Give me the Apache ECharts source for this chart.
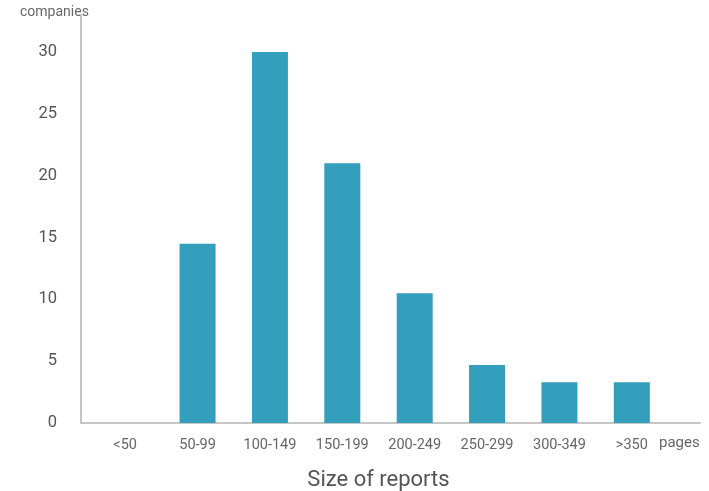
<!DOCTYPE html>
<html><head><meta charset="utf-8">
<script src="https://cdn.jsdelivr.net/npm/echarts@6/dist/echarts.min.js"></script>
<style>html,body{margin:0;padding:0;background:#fff}#c{width:709px;height:491px}</style>
</head><body><div id="c"></div>
<script>
const categories = ['<50','50-99','100-149','150-199','200-249','250-299','300-349','>350'];
const companies = [0, 14.5, 30, 21, 10.5, 4.7, 3.3, 3.3];
const yMin = 0, yMax = 33, yInterval = 5;

const FONT = 'Roboto, "Liberation Sans", sans-serif';
const chart = echarts.init(document.getElementById('c'), null, {renderer:'canvas'});
chart.setOption({
  animation:false,
  textStyle:{fontFamily:FONT},
  grid:[
    {left:81, right:9, top:15, bottom:68, containLabel:false, outerBoundsMode:'none'},
    {left:89, right:41, top:15, bottom:68, containLabel:false, outerBoundsMode:'none'}
  ],
  xAxis:[
    {gridIndex:0, type:'category', data:[''], axisLine:{lineStyle:{color:'#c6c6c6', width:2}},
     axisTick:{show:false}, axisLabel:{show:false}},
    {gridIndex:1, type:'category', data:categories,
     axisLine:{show:false}, axisTick:{show:false},
     axisLabel:{color:'#666', fontSize:14.5, margin:15, fontFamily:FONT},
     name:'Size of reports', nameLocation:'middle', nameGap:46,
     nameTextStyle:{color:'#555', fontSize:22, fontFamily:FONT}}
  ],
  yAxis:[
    {gridIndex:0, type:'value', min:yMin, max:yMax, interval:yInterval,
     axisLine:{show:true, lineStyle:{color:'#c6c6c6', width:2}},
     axisTick:{show:false}, splitLine:{show:false},
     axisLabel:{color:'#555', fontSize:16.5, margin:24, showMaxLabel:false, fontFamily:FONT}},
    {gridIndex:1, type:'value', min:yMin, max:yMax, interval:yInterval, show:false, splitLine:{show:false}}
  ],
  graphic:[
    {type:'text', left:20, top:5, style:{text:'companies', fill:'#666', font:'14px '+FONT}},
    {type:'text', left:659, top:436, style:{text:'pages', fill:'#666', font:'15px '+FONT}}
  ],
  series:[{
    type:'bar', xAxisIndex:1, yAxisIndex:1, data:companies, barWidth:36,
    itemStyle:{color:'#339fbc'}
  }]
});
</script></body></html>
